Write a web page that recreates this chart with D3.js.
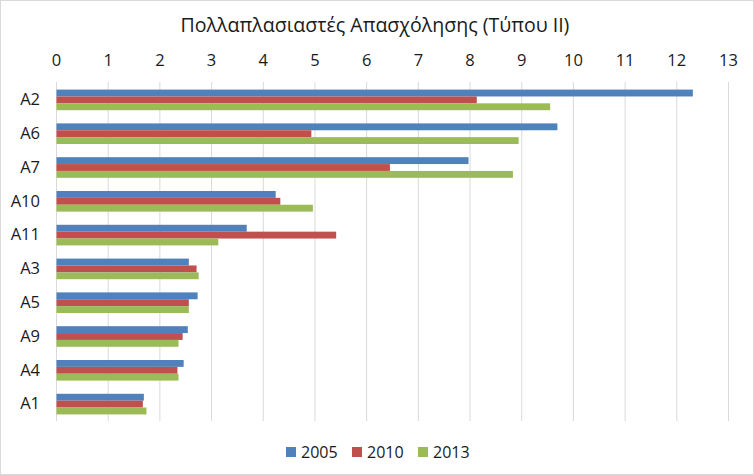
<!DOCTYPE html>
<html><head><meta charset="utf-8">
<script src="https://cdn.jsdelivr.net/npm/d3@7"></script>
<style>body{margin:0;background:#fff;} svg{display:block;}</style>
</head><body>
<svg id="c" width="754" height="475"></svg>
<script>
const categories = ["A2","A6","A7","A10","A11","A3","A5","A9","A4","A1"];
const seriesNames = ["2005","2010","2013"];
const v2005 = [12.31, 9.69, 7.97, 4.24, 3.68, 2.56, 2.73, 2.54, 2.46, 1.69];
const v2010 = [8.13, 4.93, 6.45, 4.33, 5.41, 2.71, 2.56, 2.44, 2.34, 1.67];
const v2013 = [9.55, 8.94, 8.83, 4.96, 3.13, 2.75, 2.56, 2.36, 2.36, 1.74];
const tickValues = [0,1,2,3,4,5,6,7,8,9,10,11,12,13];
const title = "Πολλαπλασιαστές Απασχόλησης (Τύπου ΙΙ)";

const colors = ["#4F81BD","#C0504D","#9BBB59"];
const values = [v2005, v2010, v2013];
const font = "'Open Sans', 'Noto Sans', sans-serif";
const ink = "#1a1a1a";

const svg = d3.select("#c");
svg.append("rect").attr("x",0.5).attr("y",0.5).attr("width",753).attr("height",474)
  .attr("fill","#fff").attr("stroke","#d9d9d9");

const pL = 56, pR = 728, pT = 83, pB = 421;
const x = d3.scaleLinear().domain([0,13]).range([pL,pR]);
const y = d3.scaleBand().domain(categories).range([pT,pB]).paddingInner(0.39).paddingOuter(0.195);
const yi = d3.scaleBand().domain(seriesNames).range([0,y.bandwidth()]);

// gridlines
svg.append("g").selectAll("line").data(tickValues).join("line")
  .attr("x1",d=>x(d)+0.5).attr("x2",d=>x(d)+0.5).attr("y1",pT-1).attr("y2",pB)
  .attr("stroke","#d9d9d9").attr("stroke-width",1);

// top axis labels
const ax = svg.append("g").attr("transform",`translate(0,${pT})`)
  .call(d3.axisTop(x).tickValues(tickValues).tickSize(0).tickPadding(17).tickFormat(d3.format("d")));
ax.select(".domain").remove();
ax.selectAll("text").attr("font-family",font).attr("font-size",16.5).attr("fill",ink);

// left axis labels
const ay = svg.append("g").attr("transform",`translate(${pL},0)`)
  .call(d3.axisLeft(y).tickSize(0).tickPadding(16));
ay.select(".domain").remove();
ay.selectAll("text").attr("font-family",font).attr("font-size",16.5).attr("fill",ink);

// bars
seriesNames.forEach((s,si)=>{
  svg.append("g").selectAll("rect").data(categories).join("rect")
    .attr("x",x(0)+0.5)
    .attr("y",(c)=>y(c)+yi(s))
    .attr("height",yi.bandwidth())
    .attr("width",(c,i)=>x(values[si][i])-x(0))
    .attr("fill",colors[si]);
});

// title
const t = svg.append("text").attr("x",375).attr("y",32).attr("text-anchor","middle")
  .attr("font-family",font).attr("font-size",18).attr("fill",ink).text(title);
const w = t.node().getComputedTextLength();
t.attr("font-size", 18*389/w);

// legend
const legX = [286, 352, 418];
const lg = svg.append("g");
seriesNames.forEach((s,i)=>{
  lg.append("rect").attr("x",legX[i]).attr("y",447).attr("width",10).attr("height",10).attr("fill",colors[i]);
  lg.append("text").attr("x",legX[i]+15).attr("y",458).attr("font-family",font)
    .attr("font-size",16).attr("fill",ink).text(s);
});
</script>
</body></html>
